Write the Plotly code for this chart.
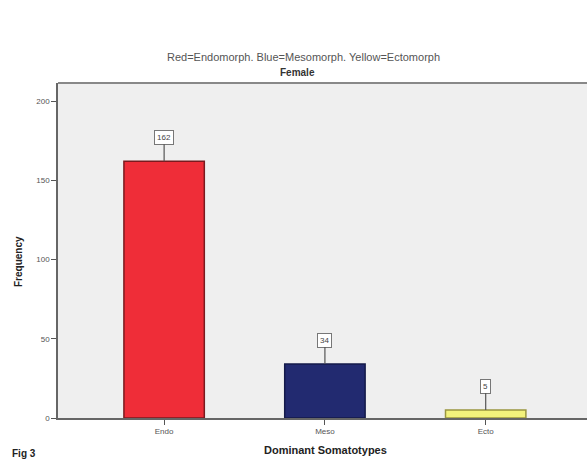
import plotly.graph_objects as go

categories = ["Endo", "Meso", "Ecto"]
frequencies = [162, 34, 5]
bar_colors = ["#ef2d38", "#222a70", "#f3f27c"]
line_colors = ["#7a1a1f", "#141a4a", "#9a9640"]
y_ticks = [0, 50, 100, 150, 200]

W, H = 587, 462
L, R, T, B = 58, 0, 83, 44
ph = H - T - B
pw = W - L - R

fig = go.Figure()
fig.add_trace(go.Bar(
    x=[0, 1, 2], y=frequencies, width=0.5,
    marker=dict(color=bar_colors, line=dict(color=line_colors, width=1.5)),
    hoverinfo="skip",
))

for i, v in enumerate(frequencies):
    fig.add_annotation(
        x=i, y=v, xref="x", yref="y", text=str(v),
        showarrow=True, arrowhead=0, arrowwidth=1.2, arrowcolor="#555555",
        ax=0, ay=-24, font=dict(family="Liberation Sans", size=8, color="#444444"),
        bordercolor="#777777", borderwidth=1, borderpad=2, bgcolor="#ffffff",
    )

font = "Liberation Sans"
fig.add_annotation(text="Red=Endomorph. Blue=Mesomorph. Yellow=Ectomorph",
                   xref="paper", yref="paper", x=(303 - L) / pw, y=1 + (83 - 57) / ph,
                   showarrow=False, xanchor="center", yanchor="middle",
                   font=dict(family=font, size=11, color="#555555"))
fig.add_annotation(text="<b>Female</b>",
                   xref="paper", yref="paper", x=(297 - L) / pw, y=1 + (83 - 73) / ph,
                   showarrow=False, xanchor="center", yanchor="middle",
                   font=dict(family=font, size=10, color="#333333"))
fig.add_annotation(text="<b>Frequency</b>", textangle=-90,
                   xref="paper", yref="paper", x=(18 - L) / pw, y=(418 - 262) / ph,
                   showarrow=False, xanchor="center", yanchor="middle",
                   font=dict(family=font, size=10, color="#222222"))
fig.add_annotation(text="<b>Dominant Somatotypes</b>",
                   xref="paper", yref="paper", x=(325 - L) / pw, y=-(450 - 418) / ph,
                   showarrow=False, xanchor="center", yanchor="middle",
                   font=dict(family=font, size=11, color="#222222"))
fig.add_annotation(text="<b>Fig 3</b>",
                   xref="paper", yref="paper", x=(10 - L) / pw, y=-(461 - 418) / ph,
                   showarrow=False, xanchor="left", yanchor="bottom",
                   font=dict(family=font, size=10, color="#222222"))

fig.update_layout(
    width=W, height=H,
    margin=dict(l=L, r=R, t=T, b=B),
    paper_bgcolor="#ffffff", plot_bgcolor="#efefef",
    showlegend=False, bargap=0.5,
    xaxis=dict(range=[-0.66, 2.63], tickmode="array", tickvals=[0, 1, 2], ticktext=categories,
               ticks="outside", ticklen=5, tickcolor="#555555", showgrid=False, zeroline=False,
               showline=True, linecolor="#666666", linewidth=1.5, mirror=False,
               tickfont=dict(family=font, size=8, color="#555555")),
    yaxis=dict(range=[0, 211.4], tickvals=y_ticks, ticks="outside", ticklen=5,
               tickcolor="#555555", showgrid=False, zeroline=False,
               showline=True, linecolor="#666666", linewidth=1.5,
               tickfont=dict(family=font, size=8, color="#555555")),
)
fig.add_shape(type="line", xref="paper", yref="paper", x0=0, x1=1, y0=1, y1=1,
              line=dict(color="#888888", width=2))

fig.write_html("out.html")
